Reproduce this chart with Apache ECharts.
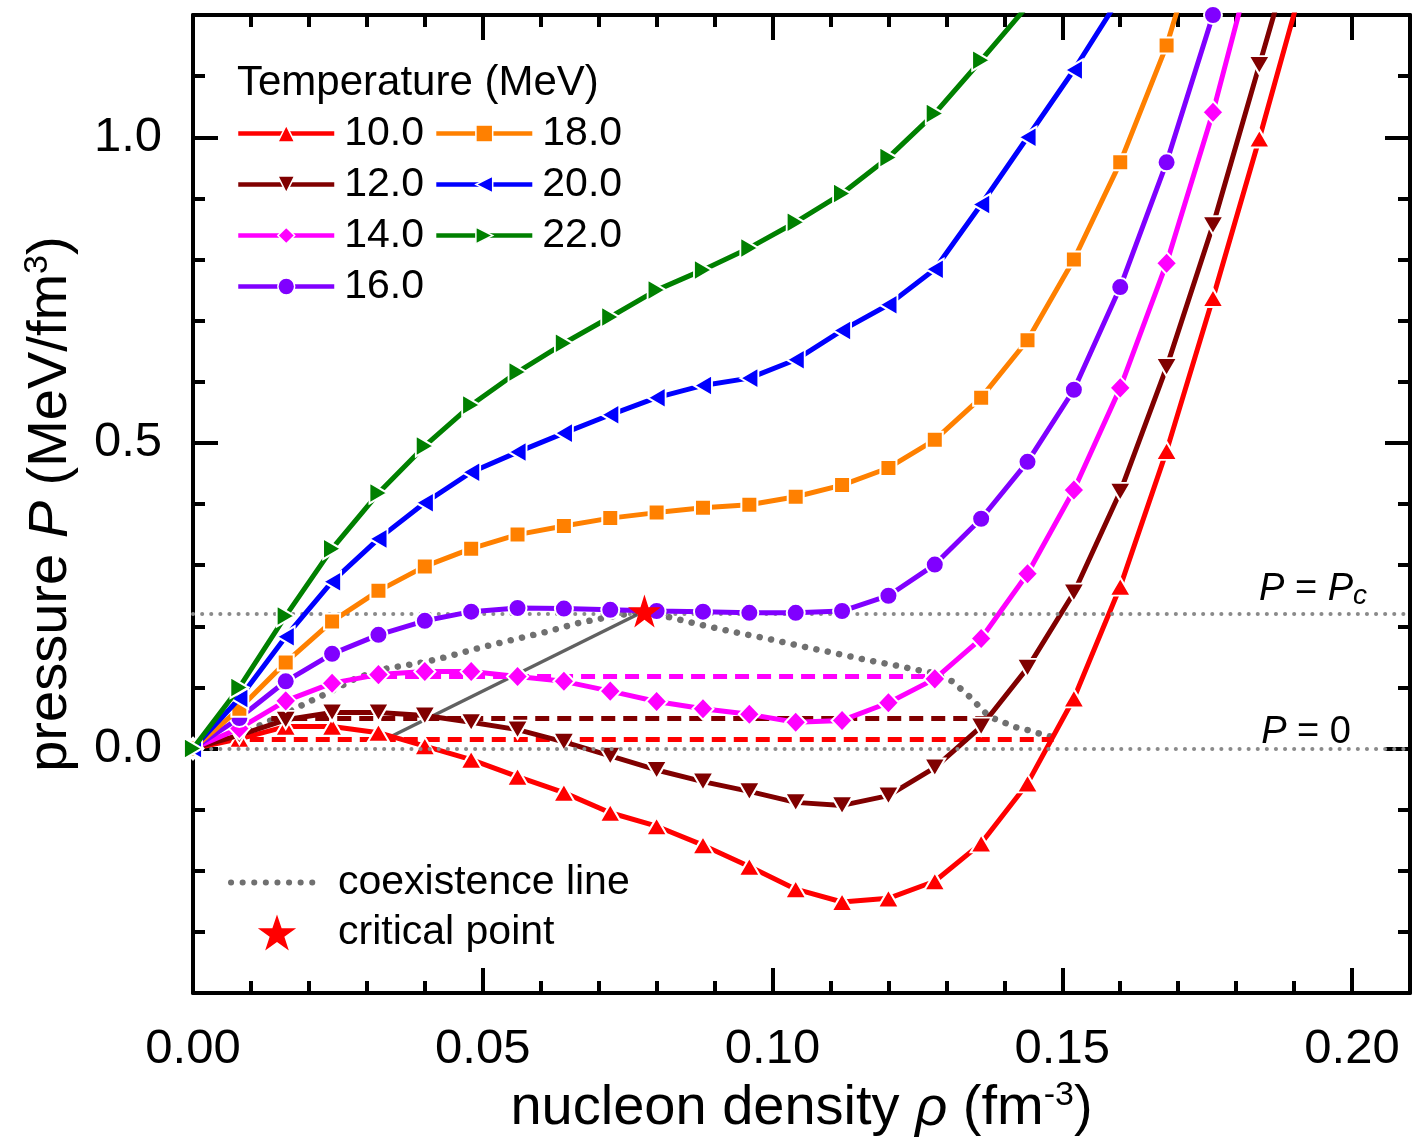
<!DOCTYPE html>
<html>
<head>
<meta charset="utf-8">
<script src="https://cdn.jsdelivr.net/npm/echarts@6/dist/echarts.min.js"></script>
<style>
html,body{margin:0;padding:0;background:#fff;}
#chart{width:1414px;height:1142px;}
</style>
</head>
<body>
<div id="chart"></div>
<script>
// ---------- data ----------
var rho = [0, 0.008, 0.016, 0.024, 0.032, 0.040, 0.048, 0.056, 0.064, 0.072, 0.080, 0.088,
           0.096, 0.104, 0.112, 0.120, 0.128, 0.136, 0.144, 0.152, 0.160, 0.168, 0.176, 0.184, 0.192];

var p10 = [0, 0.016, 0.036, 0.036, 0.026, 0.004, -0.018, -0.046, -0.072, -0.105, -0.127, -0.158,
           -0.193, -0.230, -0.251, -0.245, -0.217, -0.155, -0.057, 0.082, 0.265, 0.487, 0.737, 0.998, 1.27];
var p12 = [0, 0.022, 0.047, 0.059, 0.059, 0.054, 0.043, 0.031, 0.011, -0.012, -0.035, -0.054,
           -0.070, -0.088, -0.093, -0.077, -0.031, 0.036, 0.132, 0.255, 0.420, 0.624, 0.856, 1.118, 1.38];
var p14 = [0, 0.033, 0.078, 0.107, 0.121, 0.126, 0.126, 0.118, 0.110, 0.094, 0.077, 0.065,
           0.056, 0.043, 0.046, 0.075, 0.114, 0.180, 0.286, 0.423, 0.590, 0.794, 1.041, 1.33];
var p16 = [0, 0.050, 0.110, 0.155, 0.186, 0.209, 0.224, 0.230, 0.229, 0.227, 0.225, 0.224,
           0.222, 0.222, 0.225, 0.250, 0.301, 0.376, 0.469, 0.587, 0.755, 0.959, 1.20, 1.50];
var p18 = [0, 0.065, 0.141, 0.208, 0.258, 0.298, 0.327, 0.350, 0.364, 0.377, 0.386, 0.394,
           0.399, 0.412, 0.431, 0.459, 0.505, 0.574, 0.668, 0.800, 0.959, 1.150, 1.40];
var p20 = [0, 0.082, 0.183, 0.273, 0.343, 0.402, 0.452, 0.485, 0.516, 0.546, 0.574, 0.594,
           0.606, 0.636, 0.684, 0.726, 0.784, 0.890, 1.000, 1.110, 1.23];
var p22 = [0, 0.100, 0.217, 0.327, 0.418, 0.495, 0.562, 0.616, 0.663, 0.706, 0.750, 0.783,
           0.819, 0.861, 0.908, 0.967, 1.039, 1.126, 1.215];

var tempNames = ['10.0', '12.0', '14.0', '16.0', '18.0', '20.0', '22.0'];

// Maxwell-construction plateaus (start density, end density, pressure)
var maxwell10 = [0.006, 0.1485, 0.015];
var maxwell12 = [0.0135, 0.137, 0.049];
var maxwell14 = [0.029, 0.128, 0.118];

// coexistence line
var coexRho = [0.006, 0.009, 0.0125, 0.0162, 0.0208, 0.0237, 0.0277, 0.0322, 0.0397, 0.0438, 0.0495,
               0.0552, 0.061, 0.0667, 0.0723, 0.0778, 0.0817, 0.0874, 0.0931, 0.099, 0.1047, 0.1103,
               0.1162, 0.1207, 0.1248, 0.1276, 0.131, 0.134, 0.1374, 0.1397, 0.1414, 0.1438, 0.1455,
               0.1478, 0.1495];
var coexP   = [0.015, 0.027, 0.042, 0.059, 0.080, 0.093, 0.113, 0.129, 0.141, 0.150, 0.165,
               0.178, 0.191, 0.206, 0.216, 0.225, 0.216, 0.203, 0.191, 0.180, 0.168, 0.157,
               0.145, 0.137, 0.129, 0.124, 0.110, 0.085, 0.052, 0.044, 0.036, 0.031, 0.026,
               0.020, 0.015];

// critical point and the grey line to it
var critRho = 0.0779, critP = 0.225;
var Pc = 0.224;
var greyLineRho = [0.0334, 0.0779];
var greyLineP = [0.016, 0.225];

// axes
var xMin = 0, xMax = 0.21;
var yMin = -0.4, yMax = 1.2;
var xMajorTicks = [0, 0.05, 0.10, 0.15, 0.20];
var xMinorTicks = [0.01, 0.02, 0.03, 0.04, 0.06, 0.07, 0.08, 0.09, 0.11, 0.12, 0.13, 0.14, 0.16, 0.17, 0.18, 0.19, 0.21];
var yMajorTicks = [0, 0.5, 1.0];
var yMinorTicks = [-0.3, -0.2, -0.1, 0.1, 0.2, 0.3, 0.4, 0.6, 0.7, 0.8, 0.9, 1.1];

// ---------- styling ----------
var FONT = "'Liberation Sans', Arial, sans-serif";
var colors = ['#FF0000', '#800000', '#FF00FF', '#8000FF', '#FF8000', '#0000FF', '#008000'];
var symbols = ['triangle', 'path://M0,0 L20,0 L10,17 Z', 'diamond', 'circle', 'rect',
               'path://M0,10 L17,0 L17,20 Z', 'path://M0,0 L17,10 L0,20 Z'];
var symSizes = [[21, 18], [21, 18], [21, 22], 18, 16, [18, 21], [18, 21]];
var curves = [p10, p12, p14, p16, p18, p20, p22];
var STAR = 'path://M50,0 L61.8,35.1 L98.9,35.1 L68.8,56.8 L80.2,91.9 L50,70.2 L19.8,91.9 L31.2,56.8 L1.1,35.1 L38.2,35.1 Z';

function pairs(xs, ys) { var out = []; for (var i = 0; i < ys.length; i++) out.push([xs[i], ys[i]]); return out; }

var series = [];

// reference lines P = 0 and P = Pc
var labRich = {
  i: { fontSize: 38, fontStyle: 'italic', fontFamily: FONT, color: '#000', lineHeight: 42 },
  n: { fontSize: 38, fontFamily: FONT, color: '#000', lineHeight: 42 },
  s: { fontSize: 28, fontStyle: 'italic', fontFamily: FONT, color: '#000', lineHeight: 22, verticalAlign: 'bottom' }
};
series.push({
  type: 'line', name: 'refs', data: [], silent: true, xAxisIndex: 0, yAxisIndex: 0,
  markLine: {
    silent: true, symbol: ['none', 'none'], animation: false,
    lineStyle: { color: '#8a8a8a', width: 4, type: [0.1, 9], cap: 'round' },
    emphasis: { disabled: true },
    data: [
      { yAxis: Pc, label: { show: true, position: 'insideEndTop', distance: 4, padding: [0, 39, 0, 0],
                            formatter: '{i|P}{n| = }{i|P}{s|c}', rich: labRich } },
      { yAxis: 0, label: { show: true, position: 'insideEndTop', distance: -5, padding: [0, 64, 0, 0],
                           formatter: '{i|P}{n| = 0}', rich: labRich } }
    ]
  }
});

// coexistence line
series.push({
  type: 'line', name: 'coexistence line', data: pairs(coexRho, coexP), symbol: 'none', silent: true,
  lineStyle: { color: '#707070', width: 6.5, type: [0.1, 11.5], cap: 'round' },
  itemStyle: { color: '#707070' }, z: 2
});

// grey solid line to the critical point
series.push({
  type: 'line', name: 'grey', data: pairs(greyLineRho, greyLineP), symbol: 'none', silent: true,
  lineStyle: { color: '#505050', width: 3.5, opacity: 0.9 }, z: 2
});

// Maxwell dashed plateaus
[[maxwell10, colors[0]], [maxwell12, colors[1]], [maxwell14, colors[2]]].forEach(function (m, k) {
  series.push({
    type: 'line', name: 'maxwell' + k, data: [[m[0][0], m[0][2]], [m[0][1], m[0][2]]], symbol: 'none', silent: true,
    lineStyle: { color: m[1], width: 5, type: [14, 8] }, z: 2
  });
});

// temperature curves
for (var k = 0; k < curves.length; k++) {
  series.push({
    type: 'line', name: tempNames[k], data: pairs(rho, curves[k]),
    symbol: symbols[k], symbolSize: symSizes[k], showSymbol: true, clip: true,
    lineStyle: { color: colors[k], width: 5 },
    itemStyle: { color: colors[k], borderColor: '#ffffff', borderWidth: 2 },
    z: 3 + k
  });
}

// critical point
series.push({
  type: 'scatter', name: 'critical point', data: [[critRho, critP]],
  symbol: STAR, symbolSize: 33, itemStyle: { color: '#FF0000', opacity: 1 }, z: 20
});

function xAxisDef(pos, ticks, len, labels, line) {
  return {
    type: 'value', position: pos, min: xMin, max: xMax, scale: false,
    axisLine: { show: line, onZero: false, lineStyle: { color: '#000', width: 4 } },
    axisTick: { show: true, inside: true, length: len, customValues: ticks, lineStyle: { color: '#000', width: 4 } },
    axisLabel: labels ? {
      show: true, customValues: xMajorTicks, margin: 32, color: '#000', fontSize: 49, fontFamily: FONT,
      formatter: function (v) { return v.toFixed(2); }
    } : { show: false },
    splitLine: { show: false }
  };
}
function yAxisDef(pos, ticks, len, labels, line) {
  return {
    type: 'value', position: pos, min: yMin, max: yMax,
    axisLine: { show: line, onZero: false, lineStyle: { color: '#000', width: 4 } },
    axisTick: { show: true, inside: true, length: len, customValues: ticks, lineStyle: { color: '#000', width: 4 } },
    axisLabel: labels ? {
      show: true, customValues: yMajorTicks, margin: 31, color: '#000', fontSize: 49, fontFamily: FONT,
      formatter: function (v) { return v.toFixed(1); }
    } : { show: false },
    splitLine: { show: false }
  };
}

var nameRich = {
  t: { fontSize: 56, fontFamily: FONT, color: '#000', lineHeight: 60 },
  i: { fontSize: 56, fontFamily: FONT, fontStyle: 'italic', color: '#000', lineHeight: 60 },
  u: { fontSize: 34, fontFamily: FONT, color: '#000', lineHeight: 32, verticalAlign: 'top' }
};

var xMainAxis = xAxisDef('bottom', xMajorTicks, 25, true, true);
xMainAxis.name = '{t|nucleon density }{i|ρ}{t| (fm}{u|-3}{t|)}';
xMainAxis.nameLocation = 'middle';
xMainAxis.nameGap = 84;
xMainAxis.nameTextStyle = { rich: nameRich };

var yMainAxis = yAxisDef('left', yMajorTicks, 25, true, true);
yMainAxis.name = '{t|pressure }{i|P}{t| (MeV/fm}{u|3}{t|)}';
yMainAxis.nameLocation = 'middle';
yMainAxis.nameGap = 112;
yMainAxis.nameTextStyle = { rich: nameRich };

var option = {
  animation: false,
  backgroundColor: '#ffffff',
  textStyle: { fontFamily: FONT },
  grid: { left: 193, right: 4, top: 15, bottom: 148, containLabel: false },
  title: {
    text: 'Temperature (MeV)', left: 237, top: 62, padding: 0,
    textStyle: { fontSize: 42, fontWeight: 'normal', color: '#000', fontFamily: FONT }
  },
  legend: [
    {
      data: tempNames, orient: 'vertical', left: 236, top: 113, height: 200, padding: 0,
      itemGap: 10, itemWidth: 96, itemHeight: 21, selectedMode: false,
      lineStyle: { width: 4.5 },
      itemStyle: { borderWidth: 1.5, borderColor: '#ffffff' },
      textStyle: { fontSize: 41, color: '#000', fontFamily: FONT, width: 75, padding: [0, 0, 0, 5] }
    },
    {
      data: [
        { name: 'coexistence line', itemStyle: { color: 'rgba(0,0,0,0)', borderWidth: 0 },
          lineStyle: { width: 6, type: [0.1, 11.5], cap: 'round', color: '#707070' } },
        { name: 'critical point' }
      ],
      orient: 'vertical', left: 228, top: 862, padding: 0, itemGap: 9,
      itemWidth: 92, itemHeight: 36, selectedMode: false,
      textStyle: { fontSize: 41, color: '#000', fontFamily: FONT, padding: [0, 0, 0, 10] }
    }
  ],
  xAxis: [
    xMainAxis,
    xAxisDef('bottom', xMinorTicks, 12, false, false),
    xAxisDef('top', xMajorTicks, 25, false, true),
    xAxisDef('top', xMinorTicks, 12, false, false)
  ],
  yAxis: [
    yMainAxis,
    yAxisDef('left', yMinorTicks, 12, false, false),
    yAxisDef('right', yMajorTicks, 25, false, true),
    yAxisDef('right', yMinorTicks, 12, false, false)
  ],
  series: series
};

var chart = echarts.init(document.getElementById('chart'), null, { renderer: 'canvas' });
chart.setOption(option);
</script>
</body>
</html>
